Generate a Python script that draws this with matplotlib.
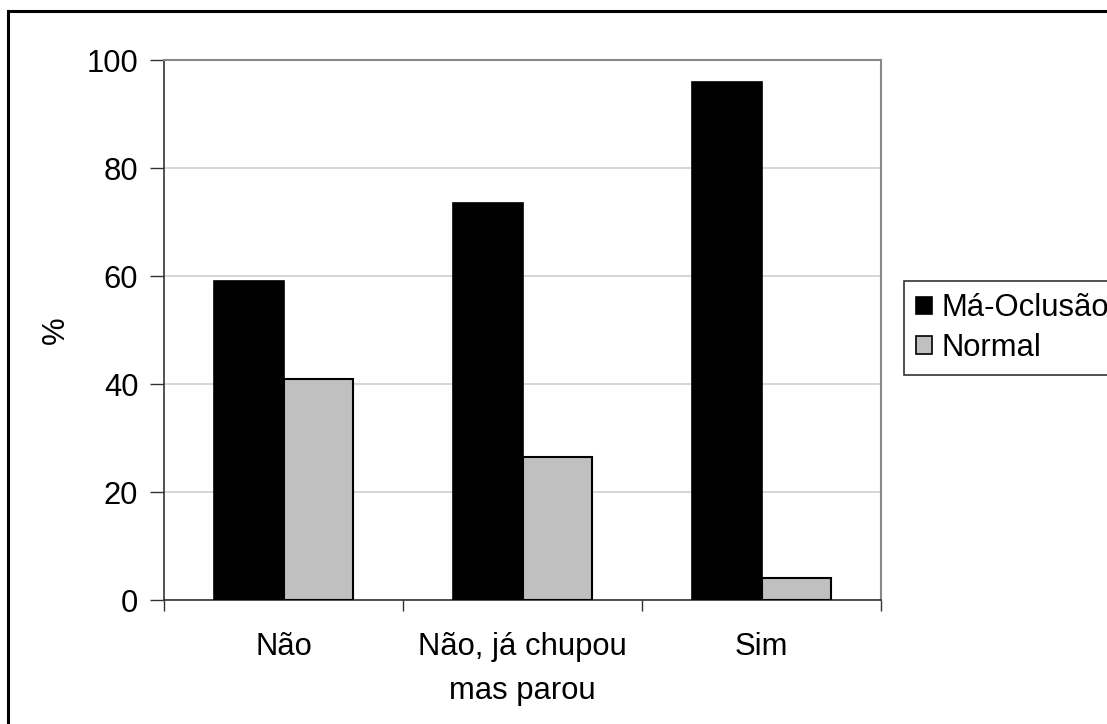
import matplotlib
matplotlib.use("Agg")
import matplotlib.pyplot as plt
from matplotlib.patches import Rectangle, Patch
import numpy as np

plt.rcParams['font.family'] = ['Liberation Sans', 'DejaVu Sans']

categories = ["Não", "Não, já chupou\nmas parou", "Sim"]
series_names = ["Má-Oclusão", "Normal"]
ma_oclusao = [59.1, 73.5, 95.9]
normal = [40.9, 26.5, 4.1]
colors = ["#000000", "#c0c0c0"]
yticks = [0, 20, 40, 60, 80, 100]

W, H = 1107, 724
FS = 22.3
fig = plt.figure(figsize=(W / 100, H / 100), dpi=100)
fig.patch.set_facecolor("white")

# outer chart border (cut off on right and bottom)
fig.patches.append(Rectangle((8 / W, -0.1), 1.2, 1 - 11 / H + 0.1, transform=fig.transFigure,
                             fill=False, edgecolor="black", linewidth=2.2, zorder=0))

ax = fig.add_axes([164 / W, 1 - 600 / H, (881 - 164) / W, (600 - 60) / H])

x = np.arange(len(categories)) + 0.5
bw = 0.29
ax.bar(x - bw / 2, ma_oclusao, width=bw, color=colors[0], edgecolor="black", linewidth=1.2, zorder=3)
ax.bar(x + bw / 2, normal, width=bw, color=colors[1], edgecolor="black", linewidth=1.5, zorder=3)

ax.set_xlim(0, 3)
ax.set_ylim(0, 100)
ax.set_yticks(yticks)
ax.set_yticklabels([str(v) for v in yticks], fontsize=FS)
ax.yaxis.grid(True, color="#d0d0d0", linewidth=1.2, zorder=0)
ax.set_axisbelow(True)

ax.set_xticks([0, 1, 2, 3])
ax.set_xticklabels([])
ax.set_xticks(x, minor=True)
ax.set_xticklabels(categories, minor=True, fontsize=FS, linespacing=1.62, va="top")
ax.tick_params(axis="x", which="minor", length=0, pad=23)
ax.tick_params(axis="x", which="major", length=8, width=1, color="#333333", direction="out")
ax.tick_params(axis="y", length=10, width=1, color="#333333", direction="out", pad=8.5)

for s in ["left", "bottom"]:
    ax.spines[s].set_color("#333333")
    ax.spines[s].set_linewidth(1.2)
for s in ["top", "right"]:
    ax.spines[s].set_color("#888888")
    ax.spines[s].set_linewidth(1.5)

ax.set_ylabel("%", fontsize=FS)
ax.yaxis.set_label_coords((71 - 164) / (881 - 164), 0.5)

handles = [Patch(facecolor=colors[i], edgecolor="black", linewidth=1.2) for i in range(2)]
leg = fig.legend(handles, series_names, loc="upper left", bbox_to_anchor=(904 / W, 1 - 281 / H),
                 fontsize=FS, frameon=True, fancybox=False, edgecolor="black",
                 handlelength=0.5, handleheight=0.5, handletextpad=0.3,
                 borderpad=0.4, labelspacing=0.3, borderaxespad=0)
leg.get_frame().set_linewidth(1.2)

fig.savefig("out.png", dpi=100, facecolor="white")
